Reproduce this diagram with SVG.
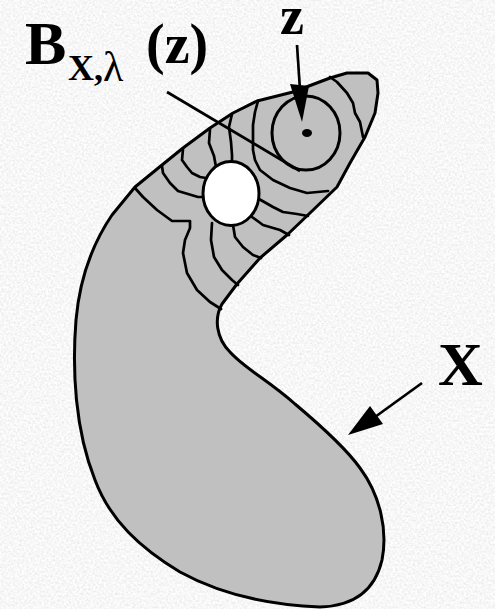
<svg xmlns="http://www.w3.org/2000/svg" width="495" height="609" viewBox="0 0 495 609">
<defs>
<filter id="noise" x="0" y="0" width="100%" height="100%">
<feTurbulence type="fractalNoise" baseFrequency="0.45" numOctaves="2" seed="7" result="t"/>
<feColorMatrix in="t" type="matrix" values="0.32 0 0 0 0.77  0.32 0 0 0 0.77  0.32 0 0 0 0.77  0 0 0 0 1"/>
</filter>
</defs>
<style>
.bg{fill:#e8e8e8}
.shape{fill:#c0c0c0;stroke:#000;stroke-width:3;stroke-linejoin:round}
.c{fill:none;stroke:#000;stroke-width:2.7;stroke-linejoin:round;stroke-linecap:round}
.lead{fill:none;stroke:#000;stroke-width:2.7}
.head{fill:#000;stroke:none}
.t{font-family:"Liberation Serif","Times New Roman",serif;font-weight:bold;fill:#000}
.g{font-family:"Liberation Serif","Times New Roman",serif;fill:#000}
</style>
<rect class="bg" x="0" y="0" width="495" height="609"/>
<rect x="0" y="0" width="495" height="609" filter="url(#noise)"/>

<g id="region-X">
<path class="shape" d="M368,73 L347,73 L330,78 L293,92 L257,101 L233,113 L210,128 L183,148 L162,165 L135,187 L112,215 C95,240 80,275 76,320 C72,370 75,430 95,480 C110,520 140,548 180,572 C220,594 270,605 320,607 C355,606 375,590 382,560 C388,530 380,495 360,468 C345,447 320,425 295,404 C268,380 244,368 230,352 C216,338 214,318 222,304 L237,284 L260,258 L287,235 L310,213 L337,187 L350,163 L365,137 L375,113 L378,93 L377,80 Z"/>
</g>

<g id="contours">
<polyline class="c" points="330,77 337,82 347,93 353,103 355,113 360,122 363,137"/>
<polyline class="c" points="258,101 255,112 253,125 253,150 255,160 260,170 273,180 290,188 307,193 328,191"/>
<polyline class="c" points="232,114 229,127 231,142 232,155 232,162"/>
<polyline class="c" points="210,129 209,143 214,156 216,167"/>
<polyline class="c" points="183,149 182,160 187,167 192,173 200,177 206,178"/>
<polyline class="c" points="162,166 163,173 170,183 178,191 188,194 198,197 203,197"/>
<polyline class="c" points="135,188 143,197 157,210 172,221 190,221 190,228 185,240 183,253 187,273 197,290 210,302 221,309"/>
<polyline class="c" points="212,223 211,240 214,257 222,270 232,280 238,285"/>
<polyline class="c" points="233,225 235,237 243,247 253,255 261,258"/>
<polyline class="c" points="252,217 263,225 280,230 289,235"/>
<polyline class="c" points="259,199 273,207 283,212 297,214 308,216"/>
</g>

<g id="ball-z">
<ellipse cx="306" cy="133" rx="34" ry="37" fill="none" stroke="#000" stroke-width="3"/>
<ellipse cx="307" cy="133" rx="5" ry="4" fill="#000"/>
</g>

<g id="hole">
<ellipse cx="231" cy="193.5" rx="28" ry="32" fill="#fff" stroke="#000" stroke-width="3"/>
</g>

<g id="label-B">
<text class="t" x="25" y="64" font-size="62">B</text>
<text class="t" x="68" y="80" font-size="36">X,</text>
<text class="g" x="103" y="81" font-size="42">λ</text>
<text class="t" x="146" y="63" font-size="56">(z)</text>
</g>

<g id="label-z">
<text class="t" x="280" y="34" font-size="54">z</text>
</g>

<g id="label-X">
<text class="t" x="438" y="385" font-size="62">X</text>
</g>

<g id="connectors">
<line class="lead" x1="167" y1="92" x2="300" y2="171"/>
<line class="lead" x1="297" y1="45" x2="300" y2="90"/>
<polygon class="head" points="290,84 309,86 302,122"/>
<line class="lead" x1="422" y1="383" x2="375" y2="417"/>
<polygon class="head" points="370,406 383,424 348,435"/>
</g>
</svg>
